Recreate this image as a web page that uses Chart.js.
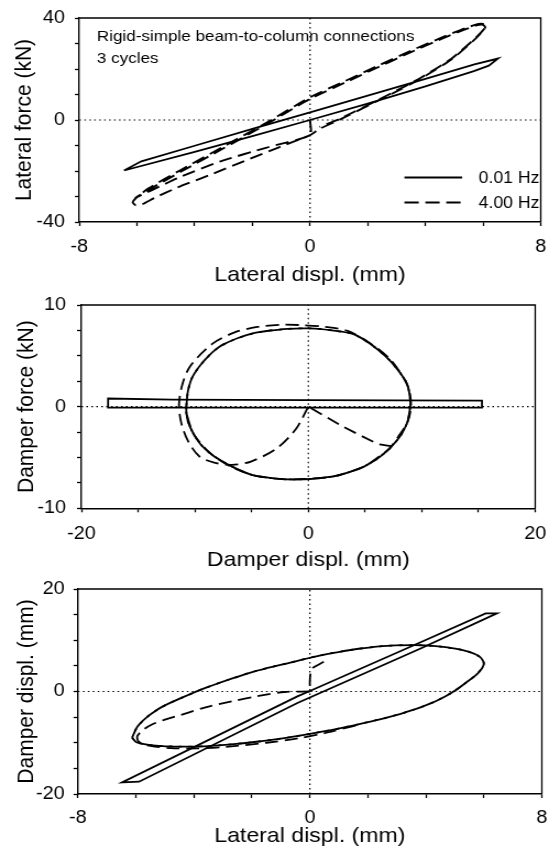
<!DOCTYPE html>
<html>
<head>
<meta charset="utf-8">
<script src="https://cdn.jsdelivr.net/npm/chart.js@4.4.1/dist/chart.umd.min.js"></script>
<style>
  html, body { margin: 0; padding: 0; background: #fff; }
  #wrap { position: relative; width: 560px; height: 859px; overflow: hidden; }
  canvas { position: absolute; left: 0; }
</style>
</head>
<body>
<div id="wrap">
  <canvas id="c1" width="509" height="286" style="top:0;width:560px;height:286px"></canvas>
  <canvas id="c2" width="509" height="286" style="top:286px;width:560px;height:286px"></canvas>
  <canvas id="c3" width="509" height="287" style="top:572px;width:560px;height:287px"></canvas>
</div>
<script>
/* three stacked hysteresis plots: 0.01 Hz (solid) vs 4.00 Hz (dashed) */

// ---- panel 1: lateral displ. (mm) vs lateral force (kN)
const p1XRange = [-8, 8];
const p1YRange = [-40, 40];
const p1XLabels = [-8, 0, 8];
const p1YLabels = [-40, 0, 40];
const p1SlowDisp  = [-6.45, -5.85, -4.0, -2.0, 0, 2.0, 4.0, 5.7, 6.52, 6.2, 5.68, 4.0, 2.0, 0, -2.0, -4.0, -6.45];
const p1SlowForce = [-19.8, -16.2, -10.1, -3.5, 3.0, 9.6, 16.1, 21.8, 24.1, 21.3, 19.2, 13.2, 6.4, 0.0, -6.3, -12.5, -19.8];
const p1FastDisp = [0, 0, -1.5, -3.1, -4.6, -5.5, -6.05,
  -5.6, -4.5, -3.0, -1.5, 0, 1.2, 2.3, 3.5, 4.6, 5.4, 5.8, 6.0, 6.08,
  5.75, 4.9, 3.8, 2.7, 1.0, 0.33, 0, -1.1, -2.17, -3.4, -4.6, -5.4, -5.85, -6.05, -6.15, -6.05,
  -5.6, -4.5, -3.0, -1.5, 0, 1.2, 2.3, 3.5, 4.6, 5.4, 5.85, 6.05, 6.1,
  5.75, 4.9, 3.8, 2.7, 1.0, 0.33];
const p1FastForce = [0, -5.9, -10.8, -16.2, -22.8, -27.6, -30.5,
  -27.4, -20.4, -11.1, -1.6, 8.3, 14.6, 20.4, 26.6, 32.0, 35.6, 37.2, 37.3, 36.2,
  32.0, 23.7, 16.0, 9.5, 0, -3.5, -5.9, -10.8, -15.6, -21.2, -26.5, -30.6, -33.2, -33.4, -32.3, -30.8,
  -26.8, -19.7, -10.4, -1.0, 8.9, 15.2, 21.0, 27.2, 32.5, 36.1, 37.7, 37.6, 36.6,
  32.3, 24.0, 16.3, 9.8, 0.3, -2.7];

// ---- panel 2: damper displ. (mm) vs damper force (kN)
const p2XRange = [-20, 20];
const p2YRange = [-10, 10];
const p2XLabels = [-20, 0, 20];
const p2YLabels = [-10, 0, 10];
const p2SlowDisp  = [0, 15.3, 15.3, 0, -12, -17.65, -17.65, 0];
const p2SlowForce = [-0.1, -0.1, 0.6, 0.65, 0.7, 0.8, -0.1, -0.1];
const p2FirstDisp = [0, -1.08, -2.79, -5.06, -6.77, -8.3, -9.6, -10.6, -11.2, -11.4, -11.1, -10.4, -8.47, -6.5, -4.5, -2.5, -0.8, 1.5, 3.47, 5.5, 7.17, 8.3, 8.87, 9.05, 8.73, 7.9, 7.17, 6.0, 4.9, 2.33, 0, -1.65, -3.5, -5.06, -7.0, -8.47, -9.5, -10.2, -10.75, -10.75];
const p2FirstForce = [0, -2.18, -4.11, -5.4, -5.72, -5.5, -4.9, -3.4, -1.6, 0.2, 2.2, 4.0, 6.17, 7.3, 7.85, 8.05, 8.03, 7.85, 7.45, 6.2, 4.7, 3.0, 1.67, 0, -1.54, -3.0, -4.1, -5.1, -5.9, -6.84, -7.1, -7.16, -7.0, -6.68, -5.8, -4.75, -3.6, -2.5, -0.58, 0.07];
const p2CycleDisp = [-10.75, -10.6, -10.2, -9.2, -7.9, -6.2, -4.5, -2.2, 0.06, 2.1, 4.04, 5.8, 7.17, 8.1, 8.73, 9.0, 8.9, 8.73, 8.1, 7.17, 6.1, 4.9, 3.6, 2.33, 0.3, -1.65, -3.4, -5.06, -6.9, -8.47, -9.5, -10.2, -10.6, -10.75, -10.75];
const p2CycleForce = [0.07, 1.6, 2.96, 4.5, 5.85, 6.75, 7.3, 7.62, 7.7, 7.5, 7.1, 5.9, 4.56, 3.3, 2.15, 0.4, -0.6, -1.54, -2.9, -4.1, -5.1, -5.9, -6.45, -6.84, -7.1, -7.16, -7.0, -6.68, -5.8, -4.75, -3.7, -2.5, -1.5, -0.58, 0.07];
const p2EndDisp  = [7.4, 6.3, 5.74, 2.9, 0];
const p2EndForce = [-3.9, -3.7, -3.47, -1.86, 0];

// ---- panel 3: lateral displ. (mm) vs damper displ. (mm)
const p3XRange = [-8, 8];
const p3YRange = [-20, 20];
const p3XLabels = [-8, 0, 8];
const p3YLabels = [-20, 0, 20];
const p3SlowLat  = [0, 3.78, 6.06, 6.45, 3.78, -0.43, -5.89, -6.48, -0.43, 0];
const p3SlowDamp = [0.1, 9.5, 15.25, 15.25, 8.3, -2.25, -17.6, -17.75, -0.96, 0.1];
const p3FirstLat  = [0, -0.88, -1.8, -2.7, -3.6, -4.41, -5.0, -5.43, -5.75, -5.95, -5.9, -5.5, -4.8, -3.9, -2.8, -1.5, -0.4, 0.6, 1.6];
const p3FirstDamp = [0, -0.1, -0.9, -1.92, -3.1, -4.5, -5.5, -6.4, -7.5, -8.7, -9.8, -10.6, -11.05, -11.1, -10.75, -10.0, -9.15, -8.0, -6.6];
const p3CycleLat  = [-6.13, -5.98, -5.5, -4.6, -3.5, -2.13, -0.77, 0.37, 1.52, 2.65, 3.5, 4.3, 4.9, 5.4, 5.8, 6.0, 5.85, 5.4, 4.6, 3.6, 2.5, 1.4, 0.37, -0.77, -1.8, -2.7, -3.6, -4.41, -5.1, -5.6, -5.95, -6.13];
const p3CycleDamp = [-9.0, -9.9, -10.45, -10.75, -10.65, -10.0, -9.0, -7.9, -6.6, -5.1, -3.7, -2.0, -0.2, 1.8, 3.6, 5.4, 6.8, 7.9, 8.7, 9.05, 8.85, 8.1, 7.06, 5.5, 4.1, 2.5, 0.7, -1.2, -3.0, -4.9, -6.9, -9.0];
const p3EndLat  = [0.48, 0.1, 0.03, 0, 0];
const p3EndDamp = [5.8, 4.6, 3.85, 2.0, 0];

const seriesLabels = ['0.01 Hz', '4.00 Hz'];
const noteLines = ['Rigid-simple beam-to-column connections', '3 cycles'];

const FONT = '"Liberation Sans", Arial, Helvetica, sans-serif';
const DASH = [12, 6];   // canvas is drawn 509 wide and shown 560 wide (source figure is stretched)

const pts = (xs, ys) => xs.map((x, i) => ({ x, y: ys[i] }));

function line(xs, ys, opt) {
  opt = opt || {};
  return {
    data: pts(xs, ys), showLine: true, fill: false,
    borderColor: '#000', borderWidth: opt.width || 1.8,
    borderDash: opt.dash || [], borderDashOffset: opt.offset || 0,
    pointRadius: 0, tension: opt.tension || 0
  };
}

function axis(o) {
  const horiz = o.dir === 'x';
  return {
    type: 'linear', min: o.range[0], max: o.range[1],
    ticks: {
      stepSize: o.step, autoSkip: false, maxRotation: 0, padding: o.tickPad,
      color: '#000', font: { family: FONT, size: 18, lineHeight: 1 },
      callback: v => o.labels.includes(v) ? String(v) : ''
    },
    grid: { display: true, drawOnChartArea: false, drawTicks: true, tickLength: 4, tickColor: '#000', tickWidth: 1.3 },
    border: { display: true, color: '#000', width: 1.4 },
    title: {
      display: true, text: o.title, color: '#000',
      font: { family: FONT, size: 21, lineHeight: 1 },
      padding: horiz ? { top: 0, bottom: o.titlePad } : { top: o.titlePad, bottom: 0 }
    },
    afterFit: s => { if (horiz) s.height = o.size; else s.width = o.size; }
  };
}

const framePlugin = {
  id: 'frame',
  afterDraw(chart) {
    const { ctx, chartArea: a } = chart;
    ctx.save();
    ctx.strokeStyle = '#000';
    ctx.lineWidth = 1.3;
    ctx.beginPath();
    ctx.moveTo(a.left, a.top); ctx.lineTo(a.right, a.top); ctx.lineTo(a.right, a.bottom);
    ctx.stroke();
    ctx.restore();
  }
};

const notePlugin = {
  id: 'note',
  afterDraw(chart) {
    const { ctx, chartArea: a } = chart;
    ctx.save();
    ctx.fillStyle = '#000';
    ctx.font = '15.5px ' + FONT;
    ctx.textBaseline = 'alphabetic';
    ctx.fillText(noteLines[0], a.left + 16, a.top + 22.5);
    ctx.fillText(noteLines[1], a.left + 16, a.top + 44.5);
    // legend
    const x0 = a.left + 295.5, x1 = a.left + 348, tx = a.left + 363;
    const rows = [a.top + 159.5, a.top + 184.5];
    ctx.strokeStyle = '#000';
    ctx.lineWidth = 1.8;
    ctx.font = '16px ' + FONT;
    ctx.textBaseline = 'middle';
    rows.forEach((y, i) => {
      ctx.setLineDash(i === 0 ? [] : [13, 6]);
      ctx.beginPath(); ctx.moveTo(x0, y); ctx.lineTo(x1, y); ctx.stroke();
      ctx.fillText(seriesLabels[i], tx, y + 1);
    });
    ctx.restore();
  }
};

function panel(id, p) {
  const ref = { width: 1.2, dash: [1.5, 3] };
  const datasets = [
    line([0, 0], p.yRange, ref),
    line(p.xRange, [0, 0], ref)
  ].concat(p.series);
  new Chart(document.getElementById(id), {
    type: 'scatter',
    data: { datasets },
    options: {
      responsive: false, animation: false, events: [],
      layout: { padding: { left: 0, top: p.top, right: p.right, bottom: 0 } },
      plugins: { legend: { display: false }, tooltip: { enabled: false } },
      scales: {
        x: axis({ dir: 'x', range: p.xRange, step: p.xStep, labels: p.xLabels, title: p.xTitle, size: p.xSize, tickPad: p.xTickPad, titlePad: p.xTitlePad }),
        y: axis({ dir: 'y', range: p.yRange, step: p.yStep, labels: p.yLabels, title: p.yTitle, size: p.ySize, tickPad: p.yTickPad, titlePad: p.yTitlePad })
      }
    },
    plugins: [framePlugin].concat(p.extra || [])
  });
}

panel('c1', {
  xRange: p1XRange, yRange: p1YRange, xStep: 2, yStep: 10, xLabels: p1XLabels, yLabels: p1YLabels,
  xTitle: 'Lateral displ. (mm)', yTitle: 'Lateral force (kN)',
  top: 15, right: 10.6, xSize: 64, ySize: 72.1,
  xTickPad: 12.5, yTickPad: 9, xTitlePad: 0.5, yTitlePad: 12.2,
  series: [
    line(p1SlowDisp, p1SlowForce),
    line(p1FastDisp, p1FastForce, { width: 1.9, dash: DASH, tension: 0.2 })
  ],
  extra: [notePlugin]
});

panel('c2', {
  xRange: p2XRange, yRange: p2YRange, xStep: 5, yStep: 2.5, xLabels: p2XLabels, yLabels: p2YLabels,
  xTitle: 'Damper displ. (mm)', yTitle: 'Damper force (kN)',
  top: 14.7, right: 9, xSize: 63.7, ySize: 74,
  xTickPad: 12.5, yTickPad: 10, xTitlePad: 1.5, yTitlePad: 13.9,
  series: [
    line(p2SlowDisp, p2SlowForce),
    line(p2FirstDisp, p2FirstForce, { dash: DASH, tension: 0.3 }),
    line(p2CycleDisp, p2CycleForce, { dash: DASH, tension: 0.3 }),
    line(p2CycleDisp, p2CycleForce, { dash: DASH, offset: 9, tension: 0.3 }),
    line(p2EndDisp, p2EndForce, { dash: DASH, tension: 0.2 })
  ]
});

panel('c3', {
  xRange: p3XRange, yRange: p3YRange, xStep: 2, yStep: 5, xLabels: p3XLabels, yLabels: p3YLabels,
  xTitle: 'Lateral displ. (mm)', yTitle: 'Damper displ. (mm)',
  top: 14, right: 12.3, xSize: 65, ySize: 70.8,
  xTickPad: 11.5, yTickPad: 8, xTitlePad: 11.8, yTitlePad: 13.9,
  series: [
    line(p3SlowLat, p3SlowDamp),
    line(p3FirstLat, p3FirstDamp, { dash: DASH, tension: 0.3 }),
    line(p3CycleLat, p3CycleDamp, { dash: DASH, tension: 0.3 }),
    line(p3CycleLat, p3CycleDamp, { dash: DASH, offset: 9, tension: 0.3 }),
    line(p3EndLat, p3EndDamp, { dash: DASH, tension: 0.2 })
  ]
});
</script>
</body>
</html>
